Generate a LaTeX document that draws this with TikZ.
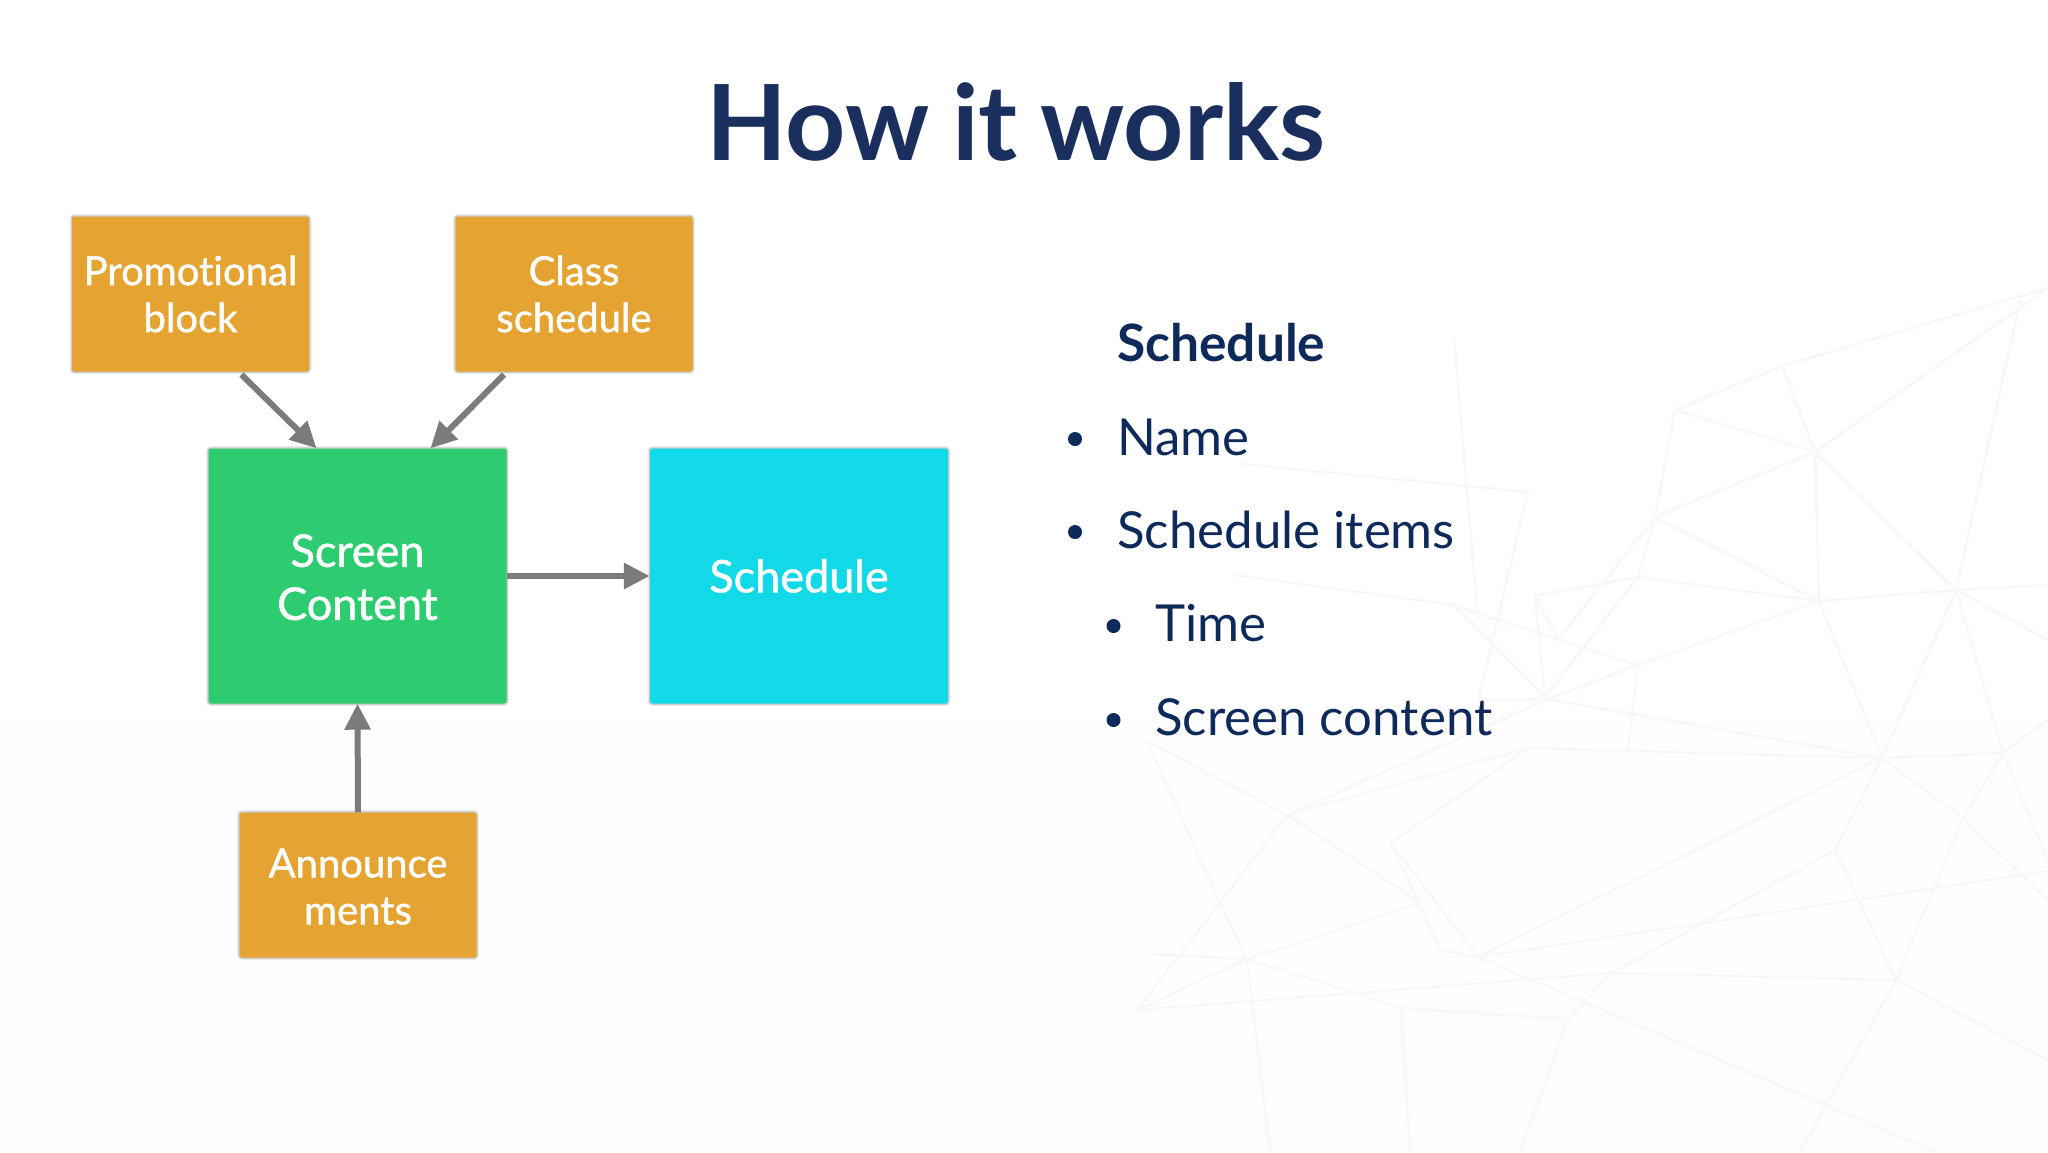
\documentclass[tikz,border=0pt]{standalone}
\usepackage{fontspec}
\setmainfont{Lato}[Ligatures=NoCommon]
\newfontfamily\latomed{Lato}[Ligatures=NoCommon,FakeBold=1.2]
\usetikzlibrary{arrows.meta}
\definecolor{orangebox}{HTML}{E5A332}
\definecolor{greenbox}{HTML}{2ECC71}
\definecolor{cyanbox}{HTML}{12D9E8}
\definecolor{titlenavy}{HTML}{1B2F5F}
\definecolor{bodynavy}{HTML}{0E2A5A}
\definecolor{arrowgrey}{HTML}{7B7B7B}
\definecolor{mesh}{HTML}{F8F8FA}
\definecolor{pagelow}{HTML}{FDFDFE}
\tikzset{
  x=1pt,y=-1pt,
  boxbase/.style={rectangle,rounded corners=2.5pt,inner sep=0pt,text=white,align=center,
    preaction={draw=black,opacity=.07,line width=5pt},
    preaction={draw=black,opacity=.14,line width=2.5pt}},
  smallbox/.style={boxbase,fill=orangebox,minimum width=237pt,font=\latomed\fontsize{40}{47}\selectfont},
  bigbox/.style={boxbase,minimum width=298pt,minimum height=255pt,font=\latomed\fontsize{45}{53}\selectfont},
  link/.style={draw=arrowgrey,line width=6pt,-{Triangle[length=26pt,width=25pt]}},
  meshline/.style={draw=mesh,line width=2.6pt},
  bullet/.style={circle,fill=bodynavy,inner sep=0pt,minimum size=14pt},
  listitem/.style={anchor=base west,inner sep=0pt,text=bodynavy,font=\fontsize{51}{60}\selectfont},
}
\begin{document}
\begin{tikzpicture}
\useasboundingbox (0,0) rectangle (2048,1152);
\shade[top color=white,bottom color=pagelow,middle color=white] (0,0) rectangle (2048,1152);
% background mesh
\draw[meshline] (1675,410)--(1782,366)--(2048,288) (1675,410)--(1815,452) (1782,366)--(1815,452)
 (1815,452)--(2048,288) (1675,410)--(1655,517) (1815,452)--(1655,517) (1815,452)--(1819,601)
 (1815,452)--(1956,590) (1655,517)--(1819,601) (1655,517)--(1638,577) (1655,517)--(1558,640)
 (1638,577)--(1819,601) (1638,577)--(1535,596) (1638,577)--(1545,697)
 (1819,601)--(1956,590)--(2048,585) (1956,590)--(2048,640) (1956,590)--(2020,300)
 (1819,601)--(1638,665) (1819,601)--(1882,758) (1956,590)--(1882,758)
 (1638,665)--(1558,640)--(1535,596) (1535,596)--(1545,697) (1638,665)--(1548,699)
 (1638,665)--(1628,749) (1548,699)--(1882,758) (1528,748)--(1882,758)--(2003,753)--(2048,720)
 (1956,590)--(2003,753) (1882,758)--(1835,850) (1882,758)--(1478,957)
 (1882,758)--(1963,818)--(2048,901) (2003,753)--(1963,818) (2003,753)--(2048,860)
 (1478,957)--(2048,871) (1391,843)--(1478,957) (1391,843)--(1528,748)
 (1391,843)--(1441,950)--(1478,957) (1421,903)--(1247,959) (1247,959)--(1137,1010)
 (1137,1010)--(1612,973)--(1896,980) (1137,1010)--(1220,903)--(1287,815)--(1528,748)
 (1147,741)--(1287,815)--(1421,903) (1247,959)--(1401,1008)--(1568,1019)
 (1478,957)--(1936,1152) (1247,959)--(1150,954) (1247,959)--(1220,903)--(1147,741)
 (1234,575)--(1454,605)--(1558,640) (1241,464)--(1528,492) (1528,492)--(1478,700)--(1548,699)
 (1454,337)--(1478,620) (1454,605)--(1545,697) (1548,699)--(1287,815)
 (1612,973)--(1568,1019)--(1520,1152) (1247,959)--(1270,1152) (1401,1008)--(1410,1152)
 (1835,850)--(1612,973) (1896,980)--(2048,1060) (1896,980)--(1800,1152)
 (1896,980)--(1835,850) (1963,818)--(1896,980);
% title
\node[anchor=base,inner sep=0pt,text=titlenavy,font=\fontsize{105}{120}\selectfont\bfseries] (title) at (1016,160) {How\hspace{-3pt} it\hspace{-3pt} works};
% boxes
\node[smallbox,minimum height=155pt] (promo) at (190.5,294) {Promotional\\block};
\node[smallbox,minimum height=155pt] (class) at (574,294) {Class\\schedule};
\node[bigbox,fill=greenbox] (screen) at (357.5,576) {\rule{0pt}{35pt}Screen\\Content};
\node[bigbox,fill=cyanbox] (sched) at (799,576) {Schedule};
\node[smallbox,minimum height=145pt] (ann) at (358,885) {\rule{0pt}{32pt}Announce\\ments};
% connectors
\draw[link] ([xshift=51pt,yshift=-3pt]promo.south) -- ([xshift=-41pt]screen.north);
\draw[link] ([xshift=-70pt,yshift=-3pt]class.south) -- ([xshift=73pt]screen.north);
\draw[link] (screen.east) -- (sched.west);
\draw[link] (ann.north) -- (screen.south);
% list
\node[listitem,font=\fontsize{51.5}{60}\selectfont\bfseries] (h) at (1117,361) {Schedule};
\node[listitem] (i1) at (1117,455) {Name};
\node[listitem] (i2) at (1117,548) {Schedule items};
\node[listitem] (i3) at (1155,641) {Time};
\node[listitem] (i4) at (1155,735) {Screen content};
\node[bullet] (b1) at (1075,439) {};
\node[bullet] (b2) at (1075,532) {};
\node[bullet] (b3) at (1113.5,626) {};
\node[bullet] (b4) at (1113.5,720) {};
\end{tikzpicture}
\end{document}
